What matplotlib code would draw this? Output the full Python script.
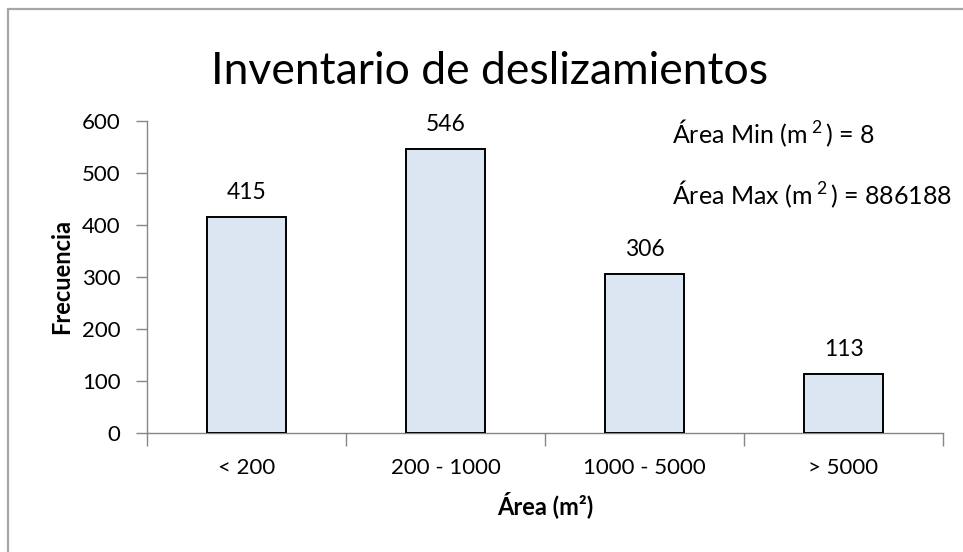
import matplotlib
matplotlib.use("Agg")
import matplotlib.pyplot as plt
from matplotlib.patches import Rectangle

categories = ["< 200", "200 - 1000", "1000 - 5000", "> 5000"]
frecuencia = [415, 546, 306, 113]
yticks = [0, 100, 200, 300, 400, 500, 600]
title = "Inventario de deslizamientos"
note_min = "Área Min (m$^{\\;2}$$\\,$) = 8"
note_max = "Área Max (m$^{\\;2}$$\\,$) = 886188"

FONT = "Lato"
plt.rcParams["font.family"] = [FONT, "DejaVu Sans"]
plt.rcParams["mathtext.fontset"] = "custom"
plt.rcParams["mathtext.rm"] = FONT
plt.rcParams["mathtext.it"] = FONT
plt.rcParams["mathtext.bf"] = FONT + ":bold"

W, H = 963, 552
fig = plt.figure(figsize=(W / 100, H / 100), dpi=100)
fig.patch.set_facecolor("white")

# outer chart border
fig.patches.append(Rectangle((8 / W, -0.1), 1.2, (H - 9) / H + 0.1, transform=fig.transFigure,
                             fill=False, edgecolor="#a6a6a6", linewidth=1.6, zorder=0))

ax = fig.add_axes([147 / W, (H - 433) / H, (943 - 147) / W, (433 - 121) / H])
x = list(range(len(categories)))
bars = ax.bar(x, frecuencia, width=0.4, color="#dce6f2", edgecolor="black", linewidth=1.4, zorder=3)
ax.set_xlim(-0.5, len(categories) - 0.5)
ax.set_ylim(0, 600)
ax.set_yticks(yticks)
ax.set_xticks([i - 0.5 for i in range(len(categories) + 1)], minor=False)
ax.set_xticklabels([""] * (len(categories) + 1))
ax.set_xticks(x, minor=True)
ax.set_xticklabels(categories, minor=True, fontsize=16)
ax.tick_params(axis="x", which="major", length=9, width=1, color="#868686", direction="out")
ax.tick_params(axis="x", which="minor", length=0, pad=18)
ax.tick_params(axis="y", length=8, width=1, color="#868686", direction="out", labelsize=16, pad=11)

for s in ["top", "right"]:
    ax.spines[s].set_visible(False)
for s in ["left", "bottom"]:
    ax.spines[s].set_color("#868686")
    ax.spines[s].set_linewidth(1)

for xi, v in zip(x, frecuencia):
    ax.annotate(str(v), (xi, v), xytext=(0, 10), textcoords="offset points",
                ha="center", va="bottom", fontsize=16.5)

fig.text(490 / W, 1 - 72 / H, title, ha="center", va="center", fontsize=32)
fig.text(672 / W, 1 - 133 / H, note_min, ha="left", va="center", fontsize=18)
fig.text(672 / W, 1 - 194 / H, note_max, ha="left", va="center", fontsize=18)

fig.text(545 / W, 1 - 505 / H, "Área (m²)", ha="center", va="center", fontsize=17, fontweight="bold")
fig.text(62 / W, 1 - 277 / H, "Frecuencia", ha="center", va="center", rotation=90,
         fontsize=17, fontweight="bold")

fig.savefig("out.png", dpi=100, facecolor="white")
